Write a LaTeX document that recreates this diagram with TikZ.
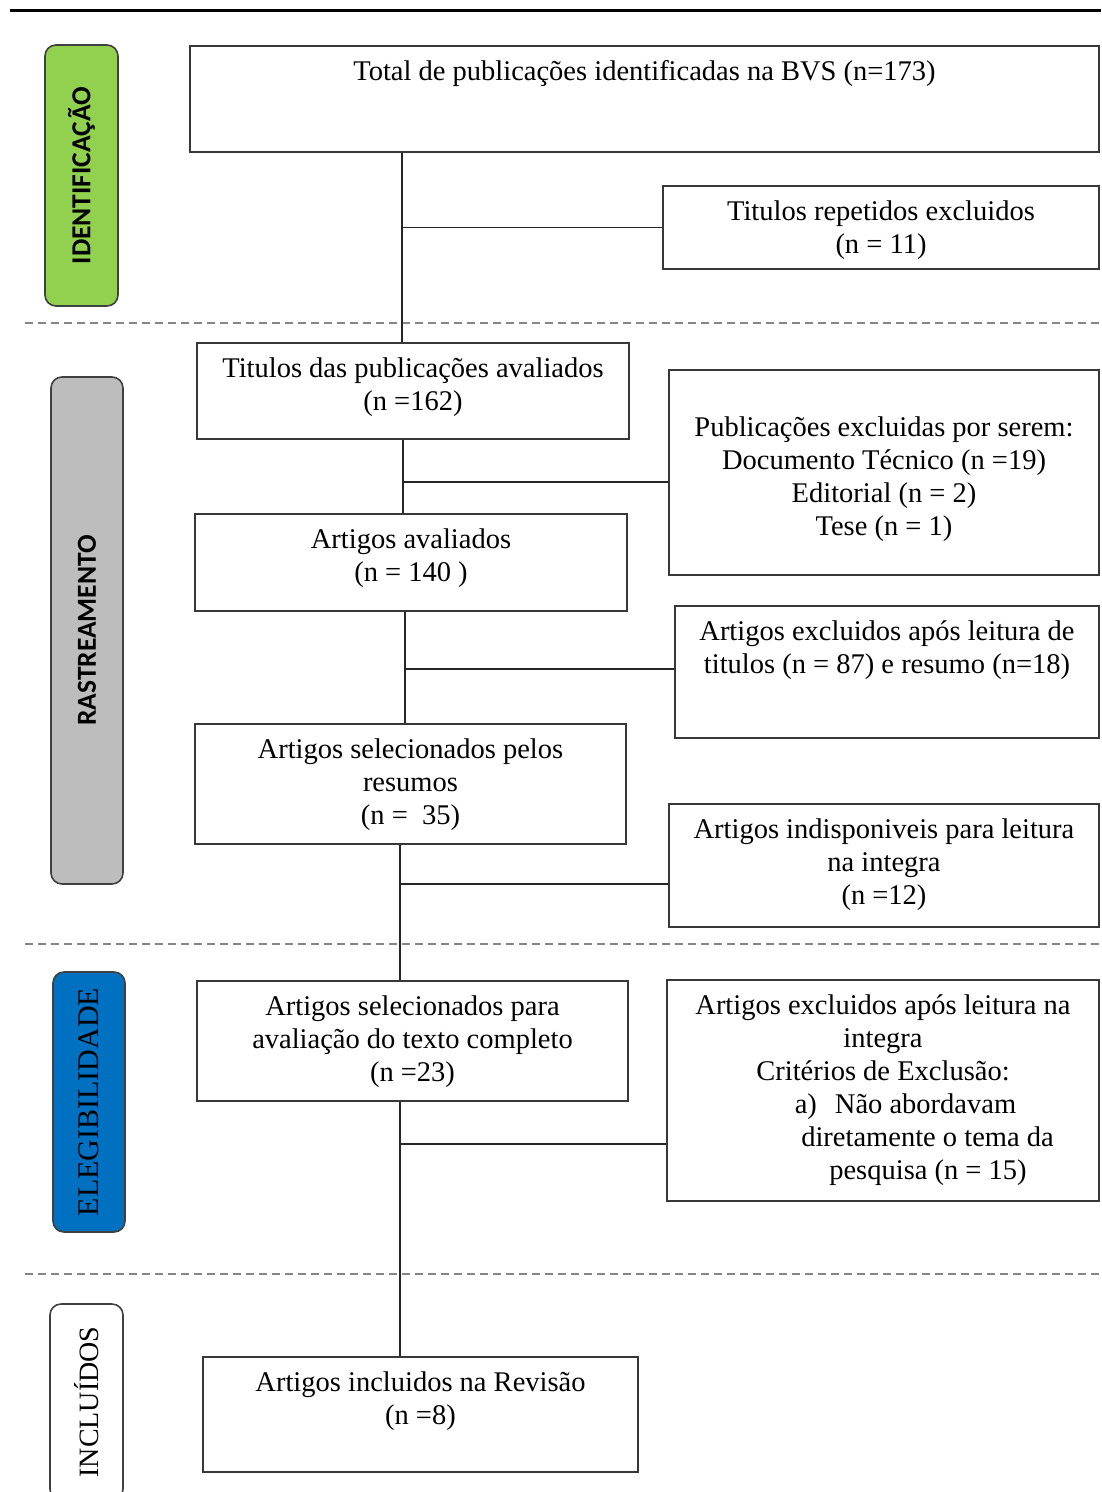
\documentclass[tikz,border=0pt]{standalone}
\usepackage{fontspec}
\setmainfont{Liberation Serif}
\newfontfamily\lblfont{Carlito}
\definecolor{phgreen}{HTML}{92D050}
\definecolor{phgray}{HTML}{BDBDBD}
\definecolor{phblue}{HTML}{0070C0}
\newcommand{\flowbox}[4]{\parbox[c][#2pt][t]{#1pt}{\centering\fontsize{28.5}{33}\selectfont\vspace*{#3pt}\strut #4\par}}
\begin{document}
\begin{tikzpicture}[x=1pt,y=-1pt,
  box/.style={draw=black!78, line width=1.8pt, inner sep=0pt, fill=white},
  conn/.style={draw=black!85, line width=1.7pt},
  phase/.style={draw=black!75, line width=1.6pt, rounded corners=11pt, inner sep=0pt, rotate=90},
  sepline/.style={draw=black!48, line width=2pt, dash pattern=on 8pt off 5pt},
  boldlbl/.style={font=\lblfont\bfseries\fontsize{27.5}{30}\selectfont},
  seriflbl/.style={font=\fontsize{30}{33}\selectfont}
  ]
\useasboundingbox (0,0) rectangle (1101,1492);
\fill[white] (0,0) rectangle (1101,1492);

% top rule and phase separators
\draw[line width=3pt, black] (10,10) -- (1101,10);
\draw[sepline] (25,323) -- (1101,323);
\draw[sepline] (25,944) -- (1101,944);
\draw[sepline] (25,1274) -- (1101,1274);

% phase labels
\node[phase, fill=phgreen, minimum width=261pt, minimum height=73pt, boldlbl] (ident) at (81.5,175.5) {IDENTIFICAÇÃO};
\node[phase, fill=phgray, minimum width=507pt, minimum height=72pt, boldlbl] (rastr) at (87,630.5) {RASTREAMENTO};
\node[phase, fill=phblue, minimum width=260pt, minimum height=72pt, seriflbl] (eleg) at (89,1102) {ELEGIBILIDADE};
\node[phase, fill=white, minimum width=196pt, minimum height=73pt, seriflbl, font=\fontsize{28}{32}\selectfont] (incl) at (86.5,1402) {INCLUÍDOS};

% boxes
\node[box] (tot) at (644.5,99) {\flowbox{909}{106}{10.9}{Total de publicações identificadas na BVS (n=173)}};
\node[box] (rep) at (881,227.5) {\flowbox{436}{83}{10.9}{Titulos repetidos excluidos\\(n = 11)}};
\node[box] (tit) at (413,391) {\flowbox{432}{96}{11.5}{Titulos das publicações avaliados\\(n =162)}};
\node[box] (pub) at (884,472.5) {\flowbox{430}{205}{43}{Publicações excluidas por serem:\\Documento Técnico (n =19)\\Editorial (n = 2)\\Tese (n = 1)}};
\node[box] (ava) at (411,562.5) {\flowbox{432}{97}{10.9}{Artigos avaliados\\(n = 140 )}};
\node[box] (ex2) at (887,672) {\flowbox{424}{132}{10.9}{Artigos excluidos após leitura de\\titulos (n = 87) e resumo (n=18)}};
\node[box] (sel) at (410.5,784) {\flowbox{431}{120}{10.9}{Artigos selecionados pelos\\resumos\\(n =\ \ 35)}};
\node[box] (ind) at (884,865.5) {\flowbox{430}{123}{10.9}{Artigos indisponiveis para leitura\\na integra\\(n =12)}};
\node[box] (com) at (412.5,1041) {\flowbox{431}{120}{11.5}{Artigos selecionados para\\avaliação do texto completo\\(n =23)}};
\node[box] (exc) at (883,1090.5) {\flowbox{432}{221}{10.9}{Artigos excluidos após leitura na\\integra\\Critérios de Exclusão:\\\hspace*{45pt}a)\hspace{18pt}Não abordavam\\\hspace*{89pt}diretamente o tema da\\\hspace*{90pt}pesquisa (n = 15)}};
\node[box] (inc) at (420.5,1414.5) {\flowbox{435}{115}{10.9}{Artigos incluidos na Revisão\\(n =8)}};

% trunk positions
\coordinate (t1) at (402,0);
\coordinate (t2) at (403,0);
\coordinate (t3) at (405,0);
\coordinate (t4) at (400,0);

% connectors
\draw[conn] (tot.south -| t1) -- (tit.north -| t1);
\draw[conn] (rep.west) -- (rep.west -| t1);
\draw[conn] (tit.south -| t2) -- (ava.north -| t2);
\draw[conn] (pub.west |- 0,482) -- (t2 |- 0,482);
\draw[conn] (ava.south -| t3) -- (sel.north -| t3);
\draw[conn] (ex2.west |- 0,669) -- (t3 |- 0,669);
\draw[conn] (sel.south -| t4) -- (com.north -| t4);
\draw[conn] (ind.west |- 0,884) -- (t4 |- 0,884);
\draw[conn] (com.south -| t4) -- (inc.north -| t4);
\draw[conn] (exc.west |- 0,1144) -- (t4 |- 0,1144);
\end{tikzpicture}
\end{document}
